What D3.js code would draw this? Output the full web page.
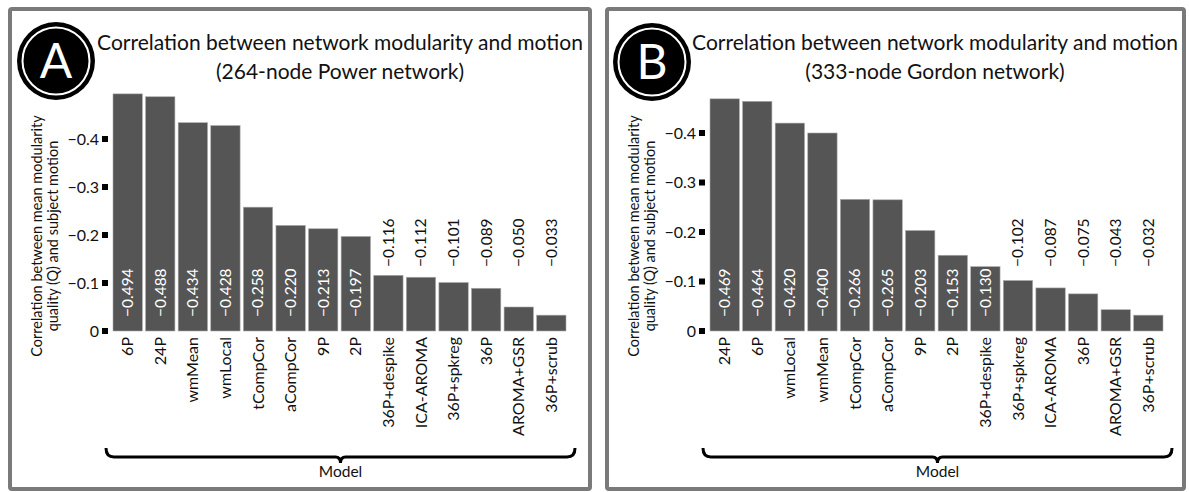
<!DOCTYPE html>
<html>
<head>
<meta charset="utf-8">
<script src="https://cdn.jsdelivr.net/npm/d3@7/dist/d3.min.js"></script>
<style>
  html, body { margin: 0; padding: 0; background: #fff; }
  svg { display: block; font-family: Lato, "Open Sans", sans-serif; }
</style>
</head>
<body>
<svg id="chart" width="1189" height="492"></svg>
<script>
// ---- Data ----
const categoriesA = ["6P", "24P", "wmMean", "wmLocal", "tCompCor", "aCompCor", "9P", "2P",
  "36P+despike", "ICA-AROMA", "36P+spkreg", "36P", "AROMA+GSR", "36P+scrub"];
const valuesA = [-0.494, -0.488, -0.434, -0.428, -0.258, -0.220, -0.213, -0.197,
  -0.116, -0.112, -0.101, -0.089, -0.050, -0.033];

const categoriesB = ["24P", "6P", "wmLocal", "wmMean", "tCompCor", "aCompCor", "9P", "2P",
  "36P+despike", "36P+spkreg", "ICA-AROMA", "36P", "AROMA+GSR", "36P+scrub"];
const valuesB = [-0.469, -0.464, -0.420, -0.400, -0.266, -0.265, -0.203, -0.153,
  -0.130, -0.102, -0.087, -0.075, -0.043, -0.032];

const yTicks = [0, -0.1, -0.2, -0.3, -0.4];
const yTickLabels = ["0", "\u22120.1", "\u22120.2", "\u22120.3", "\u22120.4"];

const titleLine1 = "Correlation between network modularity and motion";
const subtitleA = "(264-node Power network)";
const subtitleB = "(333-node Gordon network)";
const yTitle1 = "Correlation between mean modularity";
const yTitle2 = "quality (Q) and subject motion";
const xTitle = "Model";

// ---- Drawing ----
const svg = d3.select("#chart");

function fmt(v) { return "\u2212" + Math.abs(v).toFixed(3); }

function panel(cfg) {
  const g = svg.append("g");
  // frame
  g.append("rect")
    .attr("x", cfg.frame[0]).attr("y", 9)
    .attr("width", cfg.frame[1] - cfg.frame[0]).attr("height", 480)
    .attr("rx", 2)
    .attr("fill", "none").attr("stroke", "#7a7a7a").attr("stroke-width", 4);

  // badge
  const b = g.append("g").attr("transform", `translate(${cfg.badge[0]},${cfg.badge[1]})`);
  b.append("circle").attr("r", 39).attr("fill", "#000");
  b.append("circle").attr("r", 33.5).attr("fill", "none").attr("stroke", "#fff").attr("stroke-width", 2);
  b.append("text").attr("text-anchor", "middle").attr("y", 17)
    .attr("font-size", 48).attr("fill", "#fff").text(cfg.letter);

  // titles
  g.append("text").attr("x", cfg.titleX).attr("y", 50).attr("text-anchor", "middle")
    .attr("font-size", 21).attr("fill", "#111").text(titleLine1);
  g.append("text").attr("x", cfg.titleX).attr("y", 79).attr("text-anchor", "middle")
    .attr("font-size", 21).attr("fill", "#111").text(cfg.subtitle);

  const x = d3.scaleBand().domain(cfg.categories).range(cfg.xRange).paddingInner(0.1).paddingOuter(0);
  const y = d3.scaleLinear().domain([0, -0.4]).range([331, cfg.y04]);

  // y ticks
  const ty = g.append("g");
  yTicks.forEach((t, i) => {
    ty.append("rect").attr("x", cfg.xRange[0] - 11).attr("y", y(t) - 3)
      .attr("width", 6).attr("height", 6).attr("fill", "#000");
    ty.append("text").attr("x", cfg.xRange[0] - 14).attr("y", y(t)).attr("dy", "0.35em")
      .attr("text-anchor", "end").attr("font-size", 16).attr("fill", "#111").text(yTickLabels[i]);
  });

  // y title
  const yt = g.append("g").attr("transform", `translate(${cfg.yTitleX},236) rotate(-90)`);
  yt.append("text").attr("text-anchor", "middle").attr("y", 0).attr("font-size", 14.5).attr("fill", "#111").text(yTitle1);
  yt.append("text").attr("text-anchor", "middle").attr("y", 15.5).attr("font-size", 14.5).attr("fill", "#111").text(yTitle2);

  // bars
  const data = cfg.categories.map((c, i) => ({ c, v: cfg.values[i] }));
  g.selectAll("rect.bar").data(data).enter().append("rect").attr("class", "bar")
    .attr("x", d => x(d.c)).attr("width", x.bandwidth())
    .attr("y", d => y(d.v)).attr("height", d => y(0) - y(d.v))
    .attr("fill", "#555").attr("stroke", "#aaa").attr("stroke-width", 0.6);

  // value labels
  g.selectAll("text.val").data(data).enter().append("text").attr("class", "val")
    .attr("transform", d => {
      const inside = Math.abs(d.v) >= 0.125;
      return `translate(${x(d.c) + x.bandwidth() / 2},${inside ? 317 : 267}) rotate(-90)`;
    })
    .attr("dy", "0.35em").attr("text-anchor", "start").attr("font-size", 15.5)
    .attr("fill", d => Math.abs(d.v) >= 0.125 ? "#fff" : "#111")
    .text(d => fmt(d.v));

  // category labels
  g.selectAll("text.cat").data(data).enter().append("text").attr("class", "cat")
    .attr("transform", d => `translate(${x(d.c) + x.bandwidth() / 2},337) rotate(-90)`)
    .attr("dy", "0.35em").attr("text-anchor", "end").attr("font-size", 16).attr("fill", "#111")
    .text(d => d.c);

  // brace
  const x0 = cfg.xRange[0] - 7, x1 = cfg.xRange[1] + 9, cx = (x0 + x1) / 2;
  const yT = 448, yL = 457;
  const p = d3.path();
  p.moveTo(x0, yT);
  p.quadraticCurveTo(x0, yL, x0 + 8, yL);
  p.lineTo(cx - 5, yL);
  p.quadraticCurveTo(cx, yL, cx, yL + 6);
  p.quadraticCurveTo(cx, yL, cx + 5, yL);
  p.lineTo(x1 - 8, yL);
  p.quadraticCurveTo(x1, yL, x1, yT);
  g.append("path").attr("d", p.toString()).attr("fill", "none").attr("stroke", "#000").attr("stroke-width", 3);
  g.append("text").attr("x", cx).attr("y", 477).attr("text-anchor", "middle")
    .attr("font-size", 15.5).attr("fill", "#111").text(xTitle);
}

panel({ frame: [10, 590], badge: [56, 61], letter: "A", titleX: 340, subtitle: subtitleA,
  categories: categoriesA, values: valuesA, xRange: [113, 566], y04: 139, yTitleX: 42 });
panel({ frame: [607, 1184], badge: [652, 62], letter: "B", titleX: 935, subtitle: subtitleB,
  categories: categoriesB, values: valuesB, xRange: [710, 1163], y04: 133, yTitleX: 639 });
</script>
</body>
</html>
